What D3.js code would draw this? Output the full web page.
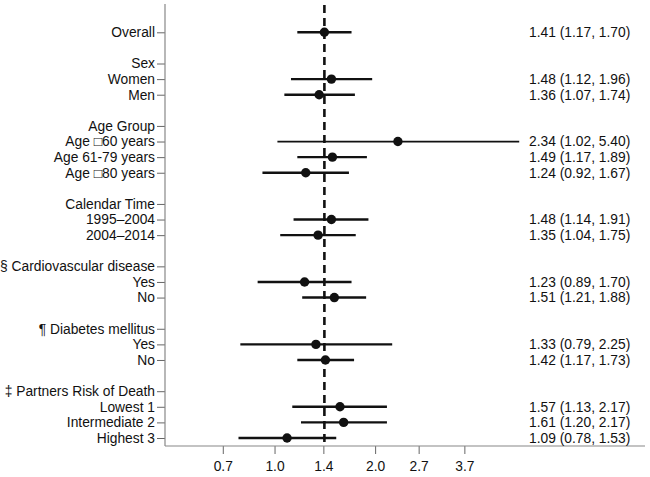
<!DOCTYPE html>
<html>
<head>
<meta charset="utf-8">
<script src="https://cdn.jsdelivr.net/npm/d3@7"></script>
<style>
  html, body { margin: 0; padding: 0; background: #fff; }
  svg { display: block; }
  text { font-family: "Liberation Sans", Arial, sans-serif; fill: #111; }
</style>
</head>
<body>
<svg id="chart" width="650" height="477"></svg>
<script>
// ---- Data ----
const rowLabels = ["Overall", "", "Sex", "Women", "Men", "", "Age Group", "Age \u25A160 years", "Age 61-79 years", "Age \u25A180 years", "",
  "Calendar Time", "1995\u20132004", "2004\u20132014", "", "\u00A7 Cardiovascular disease", "Yes", "No", "",
  "\u00B6 Diabetes mellitus", "Yes", "No", "", "\u2021 Partners Risk of Death", "Lowest 1", "Intermediate 2", "Highest 3"];
const hr    = [1.41, null, null, 1.48, 1.36, null, null, 2.34, 1.49, 1.24, null, null, 1.48, 1.35, null, null, 1.23, 1.51, null, null, 1.33, 1.42, null, null, 1.57, 1.61, 1.09];
const lower = [1.17, null, null, 1.12, 1.07, null, null, 1.02, 1.17, 0.92, null, null, 1.14, 1.04, null, null, 0.89, 1.21, null, null, 0.79, 1.17, null, null, 1.13, 1.20, 0.78];
const upper = [1.70, null, null, 1.96, 1.74, null, null, 5.40, 1.89, 1.67, null, null, 1.91, 1.75, null, null, 1.70, 1.88, null, null, 2.25, 1.73, null, null, 2.17, 2.17, 1.53];
const xTicks = [0.7, 1.0, 1.4, 2.0, 2.7, 3.7];
const refValue = 1.41;
const xDomain = [0.47, 12.85];

// ---- Layout ----
const svg = d3.select("#chart");
const mLeft = 165, mRight = 645, mTop = 4, mBottom = 446;
const FS = "13.8px";
const x = d3.scaleLog().domain(xDomain).range([mLeft, mRight]);
const y = d3.scalePoint().domain(d3.range(rowLabels.length)).range([32.3, 438]);

const rows = rowLabels.map((label, i) => ({ i, label, hr: hr[i], lo: lower[i], hi: upper[i] }));
const labeled = rows.filter(d => d.label !== "");
const est = rows.filter(d => d.hr !== null);

// reference dashed line
svg.append("line")
  .attr("x1", x(refValue)).attr("x2", x(refValue))
  .attr("y1", mTop + 1).attr("y2", mBottom)
  .attr("stroke", "#111").attr("stroke-width", 2.6)
  .attr("stroke-dasharray", "8,5");

// y axis
const yAxis = d3.axisLeft(y)
  .tickValues(labeled.map(d => d.i))
  .tickFormat(i => rowLabels[i])
  .tickSize(8).tickPadding(2);
const gy = svg.append("g").attr("transform", `translate(${mLeft},0)`).call(yAxis);
gy.select(".domain").remove();
gy.selectAll(".tick line").attr("stroke", "#666");
gy.selectAll(".tick text").style("font-size", FS).style("font-family", "'Liberation Sans', Arial, sans-serif").attr("fill", "#111");
svg.append("line").attr("x1", mLeft).attr("x2", mLeft).attr("y1", mTop).attr("y2", mBottom)
  .attr("stroke", "#888").attr("stroke-width", 1.2);

// x axis
const xAxis = d3.axisBottom(x).tickValues(xTicks).tickFormat(d3.format(".1f")).tickSize(8).tickPadding(7);
const gx = svg.append("g").attr("transform", `translate(0,${mBottom})`).call(xAxis);
gx.select(".domain").remove();
gx.selectAll(".tick line").attr("stroke", "#666");
gx.selectAll(".tick text").style("font-size", FS).style("font-family", "'Liberation Sans', Arial, sans-serif").attr("fill", "#111");
svg.append("line").attr("x1", mLeft).attr("x2", mRight).attr("y1", mBottom).attr("y2", mBottom)
  .attr("stroke", "#888").attr("stroke-width", 1.2);

// CI lines
svg.append("g").selectAll("line").data(est).join("line")
  .attr("x1", d => x(d.lo)).attr("x2", d => x(d.hi))
  .attr("y1", d => y(d.i)).attr("y2", d => y(d.i))
  .attr("stroke", "#111").attr("stroke-width", d => d.i === 7 ? 1.8 : 2.4);

// points
svg.append("g").selectAll("circle").data(est).join("circle")
  .attr("cx", d => x(d.hr)).attr("cy", d => y(d.i)).attr("r", 4.7)
  .attr("fill", "#111");

// right text
const f2 = d3.format(".2f");
svg.append("g").selectAll("text").data(est).join("text")
  .attr("x", 529).attr("y", d => y(d.i)).attr("dy", "0.35em")
  .style("font-size", FS)
  .text(d => `${f2(d.hr)} (${f2(d.lo)}, ${f2(d.hi)})`);
</script>
</body>
</html>
